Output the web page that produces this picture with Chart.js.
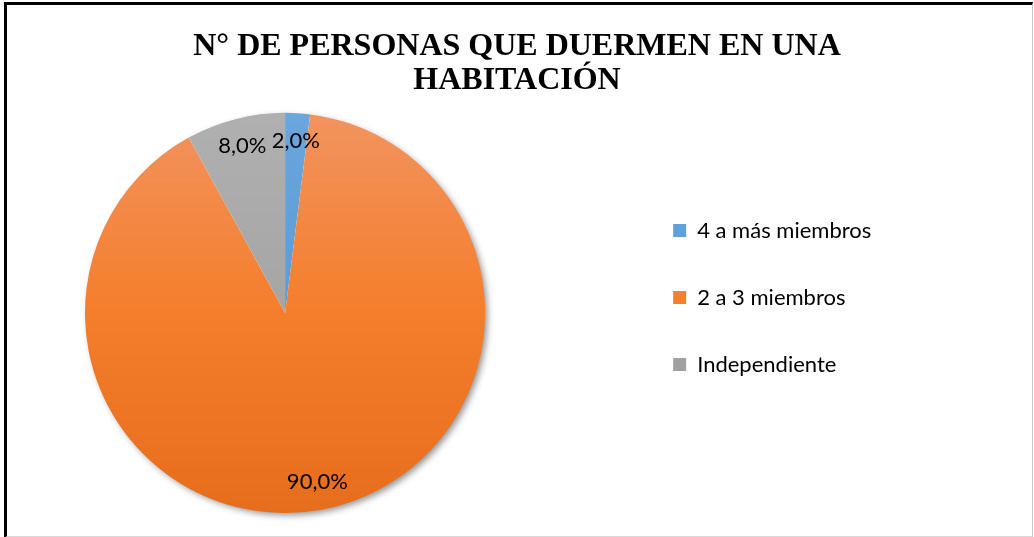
<!DOCTYPE html>
<html>
<head>
<meta charset="utf-8">
<script src="https://cdn.jsdelivr.net/npm/chart.js@4.4.1/dist/chart.umd.min.js"></script>
<style>
    body { margin: 0; background: #fff; }
    #wrap { position: relative; width: 1034px; height: 537px; }
    #ChartForRooms { position: absolute; left: 0; top: 0; }
    #frame {
        position: absolute; left: 4px; top: 2px; width: 1025px; height: 531px;
        border-top: 3px solid #000; border-left: 3px solid #000;
        border-right: 1px solid #c8c8c8; border-bottom: 2px solid #d9d9d9;
        pointer-events: none;
    }
</style>
</head>
<body>
<div id="wrap">
    <canvas id="ChartForRooms" width="1034" height="537"></canvas>
    <div id="frame"></div>
</div>
<script>
const titleLines = ['N° DE PERSONAS QUE DUERMEN EN UNA', 'HABITACIÓN'];
const categories = ['4 a más miembros', '2 a 3 miembros', 'Independiente'];
const percentages = [2.0, 90.0, 8.0];
// top / middle / bottom colours of each slice's vertical gradient
const sliceColours = [
    ['#6ba6dd', '#5b9bd5', '#4f8cca'],
    ['#f2935f', '#f47e2b', '#e66d1c'],
    ['#b0b0b0', '#a5a5a5', '#959595']
];

function sliceGradient(context) {
    const chart = context.chart;
    const area = chart.chartArea;
    if (!area) return sliceColours[context.dataIndex][1];
    const c = sliceColours[context.dataIndex];
    const g = chart.ctx.createLinearGradient(0, area.top, 0, area.bottom);
    g.addColorStop(0, c[0]);
    g.addColorStop(0.5, c[1]);
    g.addColorStop(1, c[2]);
    return g;
}

// Excel puts the plot square on the left and the legend further right
const placeBoxes = {
    id: 'placeBoxes',
    afterLayout(chart) {
        const area = chart.chartArea;
        area.left = 85;
        area.right = area.left + area.height;
        area.width = area.height;
        const lg = chart.legend;
        const w = lg.width;
        lg.left = area.right + 143;
        lg.right = lg.left + w;
        lg.top += 41;
        lg.bottom += 41;
    }
};

const pieShadow = {
    id: 'pieShadow',
    beforeDatasetsDraw(chart) {
        const arc = chart.getDatasetMeta(0).data[0];
        if (!arc) return;
        const ctx = chart.ctx;
        ctx.save();
        ctx.shadowColor = 'rgba(0,0,0,0.45)';
        ctx.shadowBlur = 7;
        ctx.shadowOffsetX = 3;
        ctx.shadowOffsetY = 3;
        ctx.beginPath();
        ctx.arc(arc.x, arc.y, arc.outerRadius - 1, 0, Math.PI * 2);
        ctx.fillStyle = '#ffffff';
        ctx.fill();
        ctx.restore();
    }
};

const sliceLabels = {
    id: 'sliceLabels',
    afterDatasetsDraw(chart) {
        const ctx = chart.ctx;
        const values = chart.data.datasets[0].data;
        ctx.save();
        ctx.font = '22px Lato';
        ctx.fillStyle = '#000';
        ctx.textAlign = 'center';
        ctx.textBaseline = 'middle';
        chart.getDatasetMeta(0).data.forEach((arc, i) => {
            const mid = (arc.startAngle + arc.endAngle) / 2;
            const r = arc.outerRadius * 0.86;
            const x = arc.x + Math.cos(mid) * r;
            const y = arc.y + Math.sin(mid) * r;
            ctx.fillText(values[i].toFixed(1).replace('.', ',') + '%', x, y);
        });
        ctx.restore();
    }
};

const ctx = document.getElementById('ChartForRooms').getContext('2d');
new Chart(ctx, {
    type: 'pie',
    data: {
        labels: categories,
        datasets: [{
            data: percentages,
            backgroundColor: sliceGradient,
            borderWidth: 0
        }]
    },
    options: {
        responsive: false,
        animation: false,
        layout: { padding: { left: 0, right: 0, top: 0, bottom: 24 } },
        plugins: {
            title: {
                display: true,
                text: titleLines,
                color: '#000',
                font: { family: 'Liberation Serif', size: 32, weight: 'bold', lineHeight: 1.06 },
                padding: { top: 30, bottom: 15 }
            },
            legend: {
                position: 'right',
                labels: {
                    boxWidth: 13,
                    boxHeight: 13,
                    padding: 45,
                    color: '#000',
                    font: { family: 'Lato', size: 22 }
                }
            },
            tooltip: { enabled: false }
        }
    },
    plugins: [placeBoxes, pieShadow, sliceLabels]
});
</script>
</body>
</html>
